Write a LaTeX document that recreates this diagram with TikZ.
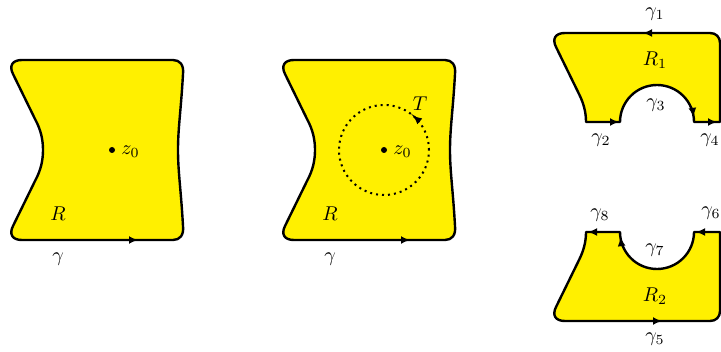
\documentclass[tikz,border=0pt]{standalone}
\usetikzlibrary{arrows.meta}
\definecolor{regfill}{RGB}{255,240,0}
\tikzset{
  region/.style={fill=regfill, draw=black, line width=1.2pt, line join=round},
  tipline/.style={-{Latex[length=4.5pt,width=4pt]}, line width=1.2pt},
  lbl/.style={inner sep=0pt},
  ptdot/.style={circle, fill=black, inner sep=0pt, minimum size=3pt},
  dotcircle/.style={draw=black, line width=1pt, dotted},
}
\begin{document}
\begin{tikzpicture}[x=0.5pt, y=-0.5pt]
\useasboundingbox (0,0) rectangle (721,352);
\clip (0,0) rectangle (721,352);

% ---------- panels 1 and 2 ----------
\foreach \ox/\k in {0/a, 272/b} {
\begin{scope}[shift={(\ox,0)}]
\path[region] (22,60) -- (173,60) .. controls (180,60) and (184,65) .. (183,74)
  .. controls (181,110) and (178,128) .. (178,150)
  .. controls (178,172) and (181,190) .. (183,226)
  .. controls (184,235) and (180,240) .. (173,240)
  -- (22,240) .. controls (12,240) and (9,234) .. (13,226)
  -- (35,181) .. controls (41,170) and (43,160) .. (43,150)
  .. controls (43,140) and (41,130) .. (35,119)
  -- (13,74) .. controls (9,66) and (12,60) .. (22,60) -- cycle;
\coordinate (bs\k) at (124,240);
\coordinate (be\k) at (138,240);
\draw[tipline] (bs\k) -- (be\k);
\node[ptdot] (z\k) at (112,150) {};
\node[lbl, anchor=west] (zl\k) at (121,152) {$z_0$};
\node[lbl] (R\k) at (58,214) {$R$};
\node[lbl] (g\k) at (58,259) {$\gamma$};
\end{scope}
}

% circle T in panel 2
\node[circle, dotcircle, minimum size=45pt, inner sep=0pt] (Tc) at (384,150) {};
\draw[tipline, line width=1pt] (zb) ++(318:45) arc[start angle=318, end angle=310, radius=45];
\node[lbl] (T) at (420,104) {$T$};

% ---------- panel 3: R1 ----------
\path[region] (565,33) -- (710,33) .. controls (716,33) and (720,37) .. (720,43)
  -- (720,122) -- (694,122) arc[start angle=0, end angle=-180, radius=37]
  -- (586,122) .. controls (586,113) and (584,104) .. (579,94)
  -- (556,47) .. controls (552,39) and (555,33) .. (565,33) -- cycle;
\coordinate (c3) at (657,122);
\coordinate (t1s) at (660,33);  \coordinate (t1e) at (643,33);
\coordinate (t2s) at (604,122); \coordinate (t2e) at (619,122);
\coordinate (t4s) at (702,122); \coordinate (t4e) at (717,122);
\draw[tipline] (t1s) -- (t1e);
\draw[tipline] (t2s) -- (t2e);
\draw[tipline] (t4s) -- (t4e);
\draw[tipline] (c3) ++(338:37) arc[start angle=338, end angle=352, radius=37];
\node[lbl] (g1) at (655,14) {$\gamma_1$};
\node[lbl] (R1) at (655,60) {$R_1$};
\node[lbl] (g3) at (656,105) {$\gamma_3$};
\node[lbl] (g2) at (601,140) {$\gamma_2$};
\node[lbl] (g4) at (710,140) {$\gamma_4$};

% ---------- panel 4: R2 ----------
\path[region] (565,321) -- (710,321) .. controls (716,321) and (720,317) .. (720,311)
  -- (720,232) -- (694,232) arc[start angle=0, end angle=180, radius=37]
  -- (586,232) .. controls (586,241) and (584,250) .. (579,260)
  -- (556,307) .. controls (552,315) and (555,321) .. (565,321) -- cycle;
\coordinate (c4) at (657,232);
\coordinate (t5s) at (647,321); \coordinate (t5e) at (662,321);
\coordinate (t6s) at (711,232); \coordinate (t6e) at (696,232);
\coordinate (t8s) at (603,232); \coordinate (t8e) at (588,232);
\draw[tipline] (t5s) -- (t5e);
\draw[tipline] (t6s) -- (t6e);
\draw[tipline] (t8s) -- (t8e);
\draw[tipline] (c4) ++(158:37) arc[start angle=158, end angle=172, radius=37];
\node[lbl] (g8) at (600,215) {$\gamma_8$};
\node[lbl] (g6) at (711,213) {$\gamma_6$};
\node[lbl] (g7) at (655,250) {$\gamma_7$};
\node[lbl] (R2) at (655,296) {$R_2$};
\node[lbl] (g5) at (655,339) {$\gamma_5$};
\end{tikzpicture}
\end{document}
